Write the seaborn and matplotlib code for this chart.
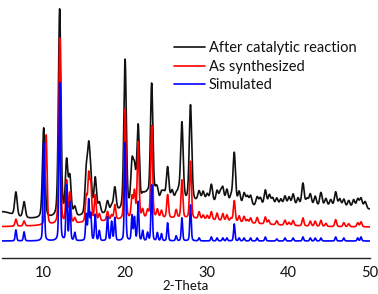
import numpy as np
import pandas as pd
import seaborn as sns
import matplotlib.pyplot as plt

# ---- data ----
# peak positions (2-theta, degrees)
peak_pos = [6.7, 7.7, 10.1, 10.4, 12.05, 12.9, 13.3, 13.9, 15.3, 15.6,
            15.85, 16.4, 16.9, 17.9, 18.4, 18.8, 20.05, 20.9, 21.2, 21.65,
            22.2, 22.8, 23.3, 24.0, 24.5, 25.25, 26.3, 27.0, 28.05, 29.1,
            30.6, 31.3, 32.0, 32.5, 33.4, 34.0, 34.6, 35.4, 36.2, 37.2,
            38.6, 39.6, 40.6, 41.8, 42.7, 43.3, 44.0, 45.8, 46.8, 48.5,
            48.9]

# peak heights above each trace's own baseline (arbitrary units)
sim_heights = [11, 9, 98, 0, 158, 55, 38, 8, 26, 40,
               26, 26, 10, 24, 19, 23, 98, 25, 23, 39,
               10, 8, 56, 8, 7, 18, 5, 23, 36, 3,
               4, 3, 3, 3, 17, 3, 3, 3, 3, 4,
               2, 3, 3, 4, 3, 3, 3, 4, 3, 3,
               4]
syn_heights = [7, 5, 0, 90, 186, 42, 30, 5, 25, 45,
               36, 26, 7, 9, 5, 15, 110, 21, 26, 76,
               8, 7, 92, 8, 7, 23, 8, 38, 57, 7,
               8, 7, 7, 6, 21, 6, 6, 5, 6, 7,
               4, 5, 5, 8, 5, 5, 6, 7, 4, 4,
               5]
cat_heights = [24, 16, 90, 0, 208, 54, 38, 9, 40, 58,
               32, 36, 11, 12, 6, 24, 150, 42, 34, 80,
               9, 9, 120, 10, 9, 34, 6, 78, 96, 10,
               18, 12, 15, 14, 52, 13, 12, 10, 9, 16,
               8, 10, 12, 23, 12, 10, 14, 15, 8, 9,
               10]

# extra small bumps seen only in the "after reaction" trace
cat_extra_pos = [22.5, 23.8, 24.8, 25.8, 26.6, 29.6, 30.1, 31.7, 33.0, 35.0,
                 36.6, 37.7, 38.1, 39.1, 40.1, 41.2, 42.3, 44.6, 45.2, 46.3,
                 47.4, 48.0, 49.4]
cat_extra_h = [8, 9, 8, 10, 8, 10, 8, 10, 7, 9,
               8, 11, 8, 7, 9, 8, 7, 8, 7, 8,
               7, 8, 7]

# extra small bumps seen in the "as synthesized" trace
syn_extra_pos = [29.6, 30.1, 33.0, 35.0, 37.6, 40.1, 44.6, 47.4]
syn_extra_h = [4, 4, 3, 3, 4, 3, 3, 3]

# baselines: (constant offset, [(centre, height, sigma), ...] broad amorphous humps)
sim_base = (17, [])
syn_base = (31, [(25, 9, 8)])
cat_base = (39, [(5, 7, 1.2), (26, 12, 5), (42, 12, 12)])

labels = ["After catalytic reaction", "As synthesized", "Simulated"]
colors = ["#111111", "#ff0000", "#0000ff"]
fwhm = [0.36, 0.26, 0.2]

tt = np.arange(5, 50.001, 0.005)


def profile(pos, heights, w, base):
    y = np.full_like(tt, float(base[0]))
    for c, h, s in base[1]:
        y += h * np.exp(-0.5 * ((tt - c) / s) ** 2)
    hw = w / 2
    for p, h in zip(pos, heights):
        d = (tt - p) / hw
        y += h * (0.7 * np.exp(-np.log(2) * d ** 2) + 0.3 / (1 + d ** 2))
    return y


y_cat = profile(peak_pos + cat_extra_pos, cat_heights + cat_extra_h, fwhm[0], cat_base)
y_syn = profile(peak_pos + syn_extra_pos, syn_heights + syn_extra_h, fwhm[1], syn_base)
y_sim = profile(peak_pos, sim_heights, fwhm[2], sim_base)

df = pd.concat([
    pd.DataFrame({"two_theta": tt, "intensity": y_cat, "sample": labels[0]}),
    pd.DataFrame({"two_theta": tt, "intensity": y_syn, "sample": labels[1]}),
    pd.DataFrame({"two_theta": tt, "intensity": y_sim, "sample": labels[2]}),
])

sns.set_style("white")
plt.rcParams["font.family"] = ["Lato", "DejaVu Sans"]

fig = plt.figure(figsize=(3.78, 2.94), dpi=100)
ax = fig.add_axes([2 / 378, 36 / 294, 368 / 378, 258 / 294])

sns.lineplot(data=df, x="two_theta", y="intensity", hue="sample",
             hue_order=labels, palette=colors, estimator=None, sort=False,
             linewidth=1.2, ax=ax)

ax.set_xlim(5, 50)
ax.set_ylim(0, 258)
ax.set_xticks([10, 20, 30, 40, 50])
ax.set_xticks([5, 15, 25, 35, 45], minor=True)
ax.set_yticks([])
ax.tick_params(axis="x", which="major", direction="out", length=4, width=1,
               labelsize=10.5, pad=2, labelcolor="#111111")
ax.tick_params(axis="x", which="minor", direction="inout", length=3, width=1)
for s in ["top", "right", "left"]:
    ax.spines[s].set_visible(False)
ax.spines["bottom"].set_linewidth(1)
ax.spines["bottom"].set_color("#222222")
ax.set_xlabel("2-Theta", fontsize=9.5, color="#111111")
ax.xaxis.set_label_coords(0.5, -0.087)
ax.set_ylabel("")

sns.move_legend(ax, loc="upper left", bbox_to_anchor=(174 / 378, 1 - 41 / 294),
                bbox_transform=fig.transFigure, frameon=False, title=None,
                fontsize=10.5, handlelength=2.1, handletextpad=0.3,
                labelspacing=0.32, borderpad=0, borderaxespad=0)
for t in ax.get_legend().get_texts():
    t.set_color("#111111")

fig.savefig("out.png", dpi=100)
